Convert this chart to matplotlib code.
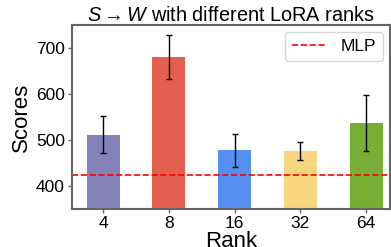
import numpy as np
import matplotlib.pyplot as plt

# LoRA rank sweep, S -> W
ranks = ['4', '8', '16', '32', '64']
scores = [511, 680, 478, 476, 537]
errors = [40, 48, 36, 20, 61]
mlp_score = 423
colors = ['#8480BA', '#E35F4F', '#5590F0', '#F8D67E', '#78AE35']

plt.rcParams['font.family'] = ['Liberation Sans', 'DejaVu Sans']
plt.rcParams['mathtext.fontset'] = 'custom'
plt.rcParams['mathtext.it'] = 'Liberation Sans:italic'
plt.rcParams['mathtext.rm'] = 'Liberation Sans'

fig, ax = plt.subplots(figsize=(3.91, 2.47), dpi=100)
x = np.arange(len(ranks))
ax.bar(x, scores, width=0.5, color=colors, yerr=errors, capsize=2.5,
       error_kw=dict(elinewidth=1, ecolor='black', capthick=1))
ax.axhline(mlp_score, color='red', linestyle='--', linewidth=1.2, label='MLP')

ax.set_xticks(x)
ax.set_xticklabels(ranks)
ax.set_xlim(-0.475, 4.36)
ax.set_ylim(350, 750)
ax.set_yticks([400, 500, 600, 700])
ax.tick_params(labelsize=12.5, color='#666666', length=3, width=1, pad=2)
ax.set_xlabel('Rank', fontsize=16, labelpad=0)
ax.set_ylabel('Scores', fontsize=16, labelpad=3)
ax.set_title(r'$S\rightarrow W$ with different LoRA ranks', fontsize=14.3, pad=2)
for s in ax.spines.values():
    s.set_color('#666666')
    s.set_linewidth(1.5)
ax.legend(loc='upper right', fontsize=12.5, handlelength=2.0, borderaxespad=0.4)

fig.subplots_adjust(left=0.184, right=0.997, top=0.899, bottom=0.154)
fig.savefig('out.png')
